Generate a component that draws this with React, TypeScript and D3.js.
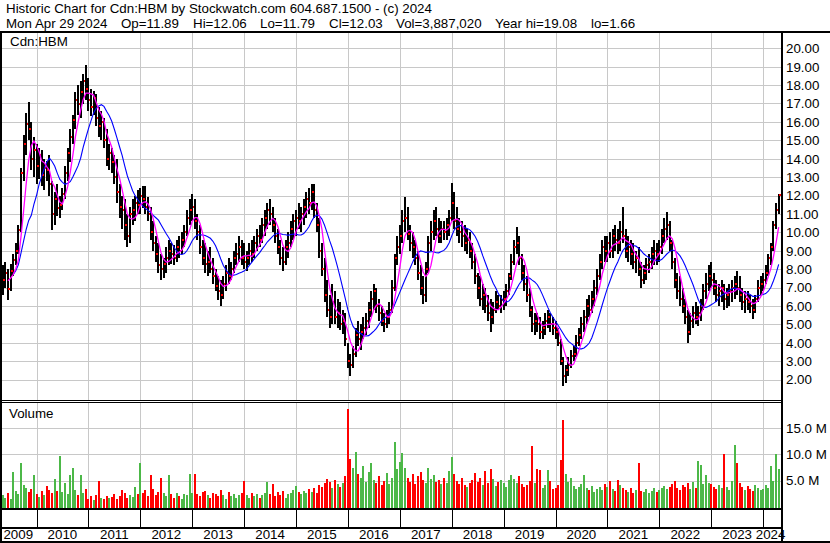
import React from 'react';
import * as d3 from 'd3';

const START_YEAR = 2009.35; // first bar (early May 2009)
const BAR_STEP = 0.05; // years per bar

const HIGH = [
  8.2,8.4,8.0,8.3,8.8,9.4,10.4,13.5,15.3,16.5,17.1,16.0,15.2,
  14.8,14.6,14.5,14.0,13.9,14.2,12.8,12.2,12.6,12.0,12.4,13.6,14.6,15.6,16.4,17.6,18.0,18.2,18.6,19.08,
  18.4,17.8,17.7,17.5,16.8,16.6,16.2,15.6,14.8,14.6,14.2,14.0,12.6,12.0,11.8,11.0,11.4,11.8,12.0,12.3,
  12.4,12.5,12.5,11.9,11.4,10.6,9.8,9.4,8.8,8.6,9.2,9.6,9.4,9.3,9.6,9.8,10.0,10.4,11.2,11.8,
  12.1,11.8,11.0,10.4,9.6,9.4,9.0,9.2,8.6,8.0,7.6,7.4,7.6,8.2,8.6,8.4,9.0,9.4,9.8,9.6,
  9.4,9.0,9.4,9.6,9.8,10.2,10.4,10.8,11.2,11.6,11.8,11.4,10.8,10.2,9.6,9.2,9.6,10.0,10.6,11.0,
  11.2,11.6,11.4,11.8,12.2,12.4,12.6,12.6,11.6,10.8,9.4,8.6,7.4,6.6,7.2,6.8,6.4,6.2,5.8,5.6,
  4.0,3.4,3.8,4.8,5.2,5.0,5.4,5.6,6.2,6.8,7.2,7.0,6.4,6.0,5.6,5.8,6.2,7.4,8.8,9.8,
  10.4,11.2,11.9,11.4,10.4,10.0,9.6,9.0,8.2,7.6,8.4,9.8,10.6,11.2,11.4,10.8,10.6,10.6,10.8,11.2,
  12.7,12.2,11.4,10.8,10.6,10.4,10.2,10.0,9.4,8.8,7.8,7.6,7.2,7.0,6.6,6.4,6.2,6.8,6.6,6.6,
  6.8,7.2,7.8,8.8,9.6,10.3,9.8,8.8,8.2,7.6,7.0,6.0,5.6,5.6,5.4,5.2,5.6,5.8,5.6,5.4,
  5.2,4.8,4.2,3.2,2.8,3.2,3.6,3.8,4.4,4.8,5.4,5.8,6.4,6.6,6.8,7.4,8.0,8.8,9.6,9.8,
  9.8,10.0,10.2,10.4,10.2,10.6,11.4,10.2,9.8,9.6,9.4,9.0,9.2,8.4,8.2,8.6,8.8,9.2,9.6,9.4,
  9.6,10.2,10.8,11.1,10.6,9.6,8.6,7.8,7.6,7.0,6.4,5.8,5.6,6.0,6.2,6.0,6.4,7.2,7.8,8.2,
  8.4,7.8,7.4,7.2,7.4,7.2,7.0,7.2,7.4,7.6,7.9,7.6,7.0,6.8,6.8,6.6,6.4,6.6,7.4,7.6,
  7.8,8.2,8.8,9.4,10.6,11.6,12.06,
];

const LOW = [
  6.6,7.0,6.3,6.8,7.6,8.2,8.8,10.0,12.8,14.2,15.0,13.4,13.0,
  12.6,12.9,12.5,12.3,12.8,12.0,10.1,10.4,10.9,10.8,11.2,11.8,12.8,13.8,14.8,15.6,16.4,16.2,17.0,17.2,
  16.6,16.3,16.4,15.8,15.2,15.0,14.6,13.6,13.4,13.2,12.6,11.6,10.8,10.2,9.6,9.2,9.4,10.4,10.6,11.0,
  11.0,11.3,11.0,10.6,9.6,9.0,8.4,7.8,7.4,7.5,7.8,8.2,8.3,8.2,8.4,8.6,8.8,9.2,9.8,10.4,
  10.6,10.2,9.6,8.8,8.2,7.8,7.6,7.8,7.2,6.8,6.3,6.0,6.4,6.8,7.2,7.4,7.8,8.2,8.4,8.2,
  8.0,7.9,8.2,8.4,8.6,9.0,9.2,9.4,9.8,10.2,10.4,10.0,9.4,8.8,8.2,7.9,8.2,8.6,9.2,9.6,
  9.8,10.2,10.0,10.4,10.8,11.0,11.2,10.8,10.0,8.6,7.6,6.2,5.4,4.8,5.0,5.0,4.8,4.7,4.5,3.8,
  2.6,2.2,2.6,3.2,3.8,3.6,4.2,4.4,4.8,5.4,5.8,5.6,5.2,4.9,4.6,4.8,5.0,5.6,6.8,8.2,
  8.8,9.4,10.0,9.6,9.0,8.6,8.2,7.4,6.6,6.1,6.2,7.8,9.0,9.6,9.8,9.4,9.4,9.6,9.6,9.8,
  10.6,10.2,9.8,9.4,9.2,9.0,8.8,8.6,8.0,7.2,6.4,6.0,5.8,5.6,5.2,4.6,5.0,5.6,5.8,5.6,
  5.8,6.0,6.6,7.4,8.2,8.8,8.2,7.4,6.8,6.2,5.4,4.6,4.4,4.6,4.2,4.2,4.4,4.8,4.6,4.4,
  4.2,3.8,2.8,1.66,1.8,2.2,2.6,3.0,3.2,3.8,4.2,4.6,5.0,5.4,5.6,6.0,6.6,7.4,8.0,8.4,
  8.4,8.6,8.6,9.0,8.8,9.0,9.4,8.6,8.4,8.2,8.0,7.8,7.6,7.0,7.2,7.4,7.8,8.0,8.2,8.2,
  8.4,8.8,9.4,9.6,9.0,8.0,7.0,6.4,6.0,5.6,5.0,4.0,4.4,4.8,5.0,4.9,5.2,5.8,6.4,6.8,
  7.0,6.6,6.2,6.0,6.2,5.8,5.9,6.0,6.2,6.4,6.6,6.2,5.8,5.6,5.8,5.6,5.3,5.6,6.2,6.6,
  6.8,7.2,7.6,8.2,9.0,10.2,11.0,
];

const CLOSE = [
  7.4,7.8,6.9,7.9,8.5,9.0,10.1,13.2,14.8,15.9,15.6,14.0,14.5,
  13.6,14.2,13.1,13.5,13.4,12.6,11.0,11.8,11.3,11.5,12.1,13.2,14.3,15.2,16.1,17.2,17.0,17.6,18.2,17.8,
  17.2,16.8,17.3,16.2,15.8,16.0,15.0,14.0,14.3,13.8,13.0,12.2,11.4,11.2,10.4,9.8,11.0,11.2,11.6,11.5,
  12.0,11.8,11.4,11.0,10.0,9.4,8.8,8.2,8.0,8.3,8.6,9.0,8.8,8.6,9.2,9.0,9.6,10.0,10.8,11.2,
  11.4,10.6,10.0,9.2,8.6,8.3,8.4,8.0,7.6,7.1,6.8,6.6,7.2,7.8,7.6,8.0,8.6,8.8,9.2,8.6,
  8.4,8.6,9.0,8.8,9.4,9.8,9.6,10.4,10.8,11.2,11.0,10.4,9.8,9.2,8.6,8.4,9.2,9.4,10.2,10.6,
  10.8,10.6,11.0,11.4,11.8,11.6,12.2,11.2,10.4,9.0,8.0,6.6,5.8,5.4,6.2,5.4,5.6,5.0,5.2,4.2,
  3.0,2.8,3.4,4.4,4.2,4.6,4.8,5.2,5.8,6.4,6.8,6.0,5.6,5.2,5.0,5.4,5.8,7.0,8.6,9.2,
  9.8,10.6,10.8,9.9,9.4,9.2,8.6,7.8,7.0,6.6,8.0,9.4,10.0,10.6,10.2,9.8,10.2,10.0,10.4,10.8,
  11.6,10.6,10.2,10.0,9.8,9.4,9.6,9.0,8.4,7.6,7.0,6.4,6.6,6.0,5.6,5.4,5.8,6.2,6.0,6.3,
  6.4,6.8,7.6,8.4,9.2,9.4,8.6,7.8,7.2,6.6,5.8,5.0,5.2,5.0,4.6,4.8,5.2,5.4,5.0,4.8,
  4.6,4.0,3.0,2.2,2.5,2.8,3.3,3.4,4.0,4.4,5.0,5.4,6.0,5.8,6.4,7.0,7.6,8.4,9.2,9.0,
  9.4,9.0,9.8,9.6,9.4,10.0,9.8,9.0,9.2,8.8,8.4,8.6,8.0,7.4,7.8,8.2,8.4,8.8,9.0,8.8,
  9.2,9.8,10.2,10.4,9.4,8.4,7.4,6.8,6.4,6.0,5.4,4.6,5.2,5.6,5.4,5.6,6.0,6.8,7.2,7.6,
  7.4,7.0,6.6,6.8,7.0,6.4,6.6,6.8,7.0,7.2,7.0,6.6,6.2,6.4,6.2,6.0,5.8,6.4,7.0,7.2,
  7.4,7.8,8.6,9.2,10.4,11.2,12.03,
];

// volume in millions
const VOLUME = [
  2.2,1.8,2.6,1.5,6.7,3.0,2.4,8.3,4.2,3.6,2.8,3.4,6.0,
  2.4,1.9,3.0,2.2,4.0,3.2,2.6,5.4,3.1,9.6,2.8,4.6,2.5,6.0,7.5,3.3,2.2,6.0,2.7,3.4,
  1.6,2.0,1.4,2.2,5.0,1.8,1.5,2.1,1.7,1.9,2.4,1.6,2.0,3.2,2.6,1.8,2.2,1.9,3.8,2.4,
  8.4,2.6,3.2,2.0,6.0,3.4,2.2,2.8,5.5,2.6,2.0,6.0,2.4,1.8,2.6,2.0,1.6,2.4,2.2,6.2,
  2.6,6.2,2.4,2.0,2.8,3.0,2.2,1.8,2.6,2.4,2.0,3.2,2.2,1.6,2.8,2.0,2.4,1.8,2.2,2.6,
  5.0,2.2,1.8,2.6,2.0,2.4,1.8,2.2,2.6,4.7,2.4,4.4,2.0,2.8,2.2,3.0,1.8,2.4,2.6,3.2,
  3.9,2.8,2.4,3.0,2.6,3.4,2.8,3.6,2.6,4.2,3.8,4.6,5.4,4.8,3.6,5.2,4.4,3.8,4.6,5.8,
  18.6,9.2,7.4,10.4,6.2,5.6,7.8,4.8,6.6,8.4,5.2,4.6,5.8,4.2,5.0,6.4,4.4,5.6,12.4,7.2,
  8.6,10.2,7.4,5.6,4.8,6.2,4.4,5.8,6.6,5.2,4.6,7.4,5.4,6.0,4.8,5.2,4.4,5.6,4.6,6.8,
  9.4,6.2,5.0,4.4,5.6,4.2,3.8,4.6,5.2,6.4,4.8,5.6,4.2,6.8,4.6,7.2,5.4,4.0,4.8,5.2,
  4.6,3.8,5.2,6.0,5.4,4.6,5.8,4.4,3.8,4.2,5.0,11.5,4.6,7.2,7.0,3.6,4.2,7.0,5.0,3.4,
  3.6,4.2,9.0,16.5,6.2,4.8,5.5,4.0,3.4,3.8,4.4,6.0,3.6,3.2,4.0,2.8,3.4,3.8,3.2,4.4,
  3.8,5.0,3.4,3.0,5.2,4.2,3.6,3.2,2.8,3.6,2.6,3.2,8.4,3.0,2.8,3.4,2.6,3.0,3.6,2.8,
  3.2,3.6,4.0,3.4,3.8,4.4,5.0,3.6,3.2,4.2,3.8,4.6,3.4,4.8,3.6,8.8,8.0,4.4,6.0,4.6,
  4.4,3.8,3.4,4.2,3.6,10.0,3.8,3.2,5.0,11.7,8.4,4.6,3.8,3.2,4.0,3.4,3.0,4.2,3.6,3.2,
  3.4,4.2,3.6,7.8,5.0,10.0,7.3,
];

const PRICE_TICKS = [2,3,4,5,6,7,8,9,10,11,12,13,14,15,16,17,18,19,20];
const VOLUME_TICKS = [5, 10, 15];
const YEARS = [2009,2010,2011,2012,2013,2014,2015,2016,2017,2018,2019,2020,2021,2022,2023,2024];
const HEADER_1 = 'Historic Chart for Cdn:HBM by Stockwatch.com 604.687.1500 - (c) 2024';
const HEADER_2 = ['Mon Apr 29 2024','Op=11.89','Hi=12.06','Lo=11.79','Cl=12.03','Vol=3,887,020','Year hi=19.08','lo=1.66'];
const HEADER_2_X = [6,121,193,260,329,396,495,591];
const MA_FAST = 5;
const MA_SLOW = 12;

const FONT = "'Liberation Sans', Arial, Helvetica, sans-serif";
const GRID = '#c8c8c8';
const GREEN = '#4cb848';
const RED = '#ff0000';

export default function App() {
  const n = Math.min(HIGH.length, LOW.length, CLOSE.length, VOLUME.length);
  const idx = d3.range(n);
  const time = (i: number) => START_YEAR + BAR_STEP * i;

  const plotL = 2, plotR = 781;
  const priceTop = 33, priceBot = 400;
  const volTop = 403, volBot = 508;

  const x = d3.scaleLinear().domain([2010, 2024]).range([36.5, 763.1]);
  const y = d3.scaleLinear().domain([2, 20]).range([379.5, 48.3]);
  const yv = d3.scaleLinear().domain([0, 15]).range([507, 428]);

  // moving average of closes (expanding window until the full length is available)
  const sma = (len: number, from: number) => {
    const out: [number, number][] = [];
    for (let i = from; i < n; i++) {
      const s = Math.max(0, i - len + 1);
      out.push([i, d3.mean(CLOSE.slice(s, i + 1)) as number]);
    }
    return out;
  };
  const line = d3.line<[number, number]>().x(d => x(time(d[0]))).y(d => y(d[1]));
  const fastPath = line(sma(MA_FAST, 2)) || '';
  const slowPath = line(sma(MA_SLOW, 4)) || '';

  const yearEdges = YEARS.slice(1).map(yr => x(yr));

  return (
    <svg width={830} height={543} style={{ position: 'absolute', left: 0, top: 0, background: '#fff' }}
      fontFamily={FONT}>
      <defs>
        <clipPath id="pclip"><rect x={plotL} y={priceTop} width={plotR - plotL} height={priceBot - priceTop} /></clipPath>
        <clipPath id="vclip"><rect x={plotL} y={volTop} width={plotR - plotL} height={volBot - volTop} /></clipPath>
      </defs>
      <rect x={0} y={0} width={830} height={543} fill="#fff" />
      {/* header */}
      <text x={6} y={12.5} fontSize={13.33} fill="#000">{HEADER_1}</text>
      {HEADER_2.map((s, i) => (
        <text key={s} x={HEADER_2_X[i]} y={27.5} fontSize={13.33} fill="#000">{s}</text>
      ))}

      {/* grid */}
      <g shapeRendering="crispEdges">
        {PRICE_TICKS.map(v => (
          <line key={'pg' + v} x1={plotL} x2={plotR} y1={Math.round(y(v)) + 0.5} y2={Math.round(y(v)) + 0.5} stroke={GRID} />
        ))}
        {yearEdges.map((xe, i) => (
          <line key={'px' + i} x1={Math.round(xe) + 0.5} x2={Math.round(xe) + 0.5} y1={priceTop} y2={priceBot} stroke={GRID} />
        ))}
        {VOLUME_TICKS.map(v => (
          <line key={'vg' + v} x1={plotL} x2={plotR} y1={Math.round(yv(v)) + 0.5} y2={Math.round(yv(v)) + 0.5} stroke={GRID} />
        ))}
        {yearEdges.map((xe, i) => (
          <line key={'vx' + i} x1={Math.round(xe) + 0.5} x2={Math.round(xe) + 0.5} y1={volTop} y2={volBot} stroke={GRID} />
        ))}
      </g>

      <text x={10} y={46} fontSize={13.33} fill="#000">Cdn:HBM</text>
      <text x={9} y={418} fontSize={13.33} fill="#000">Volume</text>

      {/* price bars */}
      <g clipPath="url(#pclip)" shapeRendering="crispEdges">
        {idx.map(i => (
          <rect key={'b' + i} x={x(time(i)) - 1} y={y(HIGH[i])} width={2}
            height={Math.max(1, y(LOW[i]) - y(HIGH[i]))} fill="#000" />
        ))}
        {idx.map(i => (
          <rect key={'c' + i} x={x(time(i)) + 0.5} y={y(CLOSE[i]) - 1} width={1.5} height={2} fill={RED} />
        ))}
      </g>
      <g clipPath="url(#pclip)" fill="none">
        <path d={slowPath} stroke="#0000ff" strokeWidth={1.1} />
        <path d={fastPath} stroke="#ff00ff" strokeWidth={1.3} />
      </g>

      {/* volume bars */}
      <g clipPath="url(#vclip)" shapeRendering="crispEdges">
        {idx.map(i => {
          const up = i === 0 ? true : CLOSE[i] >= CLOSE[i - 1];
          return (
            <rect key={'v' + i} x={x(time(i)) - 1} y={yv(VOLUME[i])} width={2}
              height={volBot - yv(VOLUME[i])} fill={up ? GREEN : RED} />
          );
        })}
      </g>

      {/* frame lines */}
      <g shapeRendering="crispEdges" fill="#000">
        <rect x={0} y={31} width={830} height={2} />
        <rect x={0} y={31} width={2} height={512} />
        <rect x={781} y={31} width={2} height={512} />
        <rect x={0} y={400} width={783} height={1} />
        <rect x={0} y={402} width={783} height={1} />
        <rect x={0} y={508} width={783} height={2} />
        <rect x={0} y={527} width={783} height={2} />
        <rect x={0} y={541} width={830} height={2} />
        {yearEdges.map((xe, i) => (
          <rect key={'t' + i} x={Math.round(xe)} y={510} width={1} height={17} />
        ))}
      </g>

      {/* axis labels */}
      {PRICE_TICKS.map(v => (
        <text key={'pl' + v} x={786} y={y(v) + 4.8} fontSize={13.33} fill="#000">{v.toFixed(2)}</text>
      ))}
      {VOLUME_TICKS.map(v => (
        <text key={'vl' + v} x={786} y={yv(v) + 4.8} fontSize={13.33} fill="#000">{v.toFixed(1) + ' M'}</text>
      ))}
      {YEARS.map(yr => {
        const a = Math.max(x(yr), 0);
        const b = Math.min(x(yr + 1), 778);
        return (
          <text key={'yl' + yr} x={(a + b) / 2} y={539} fontSize={13.33} textAnchor="middle" fill="#000">{yr}</text>
        );
      })}
    </svg>
  );
}
